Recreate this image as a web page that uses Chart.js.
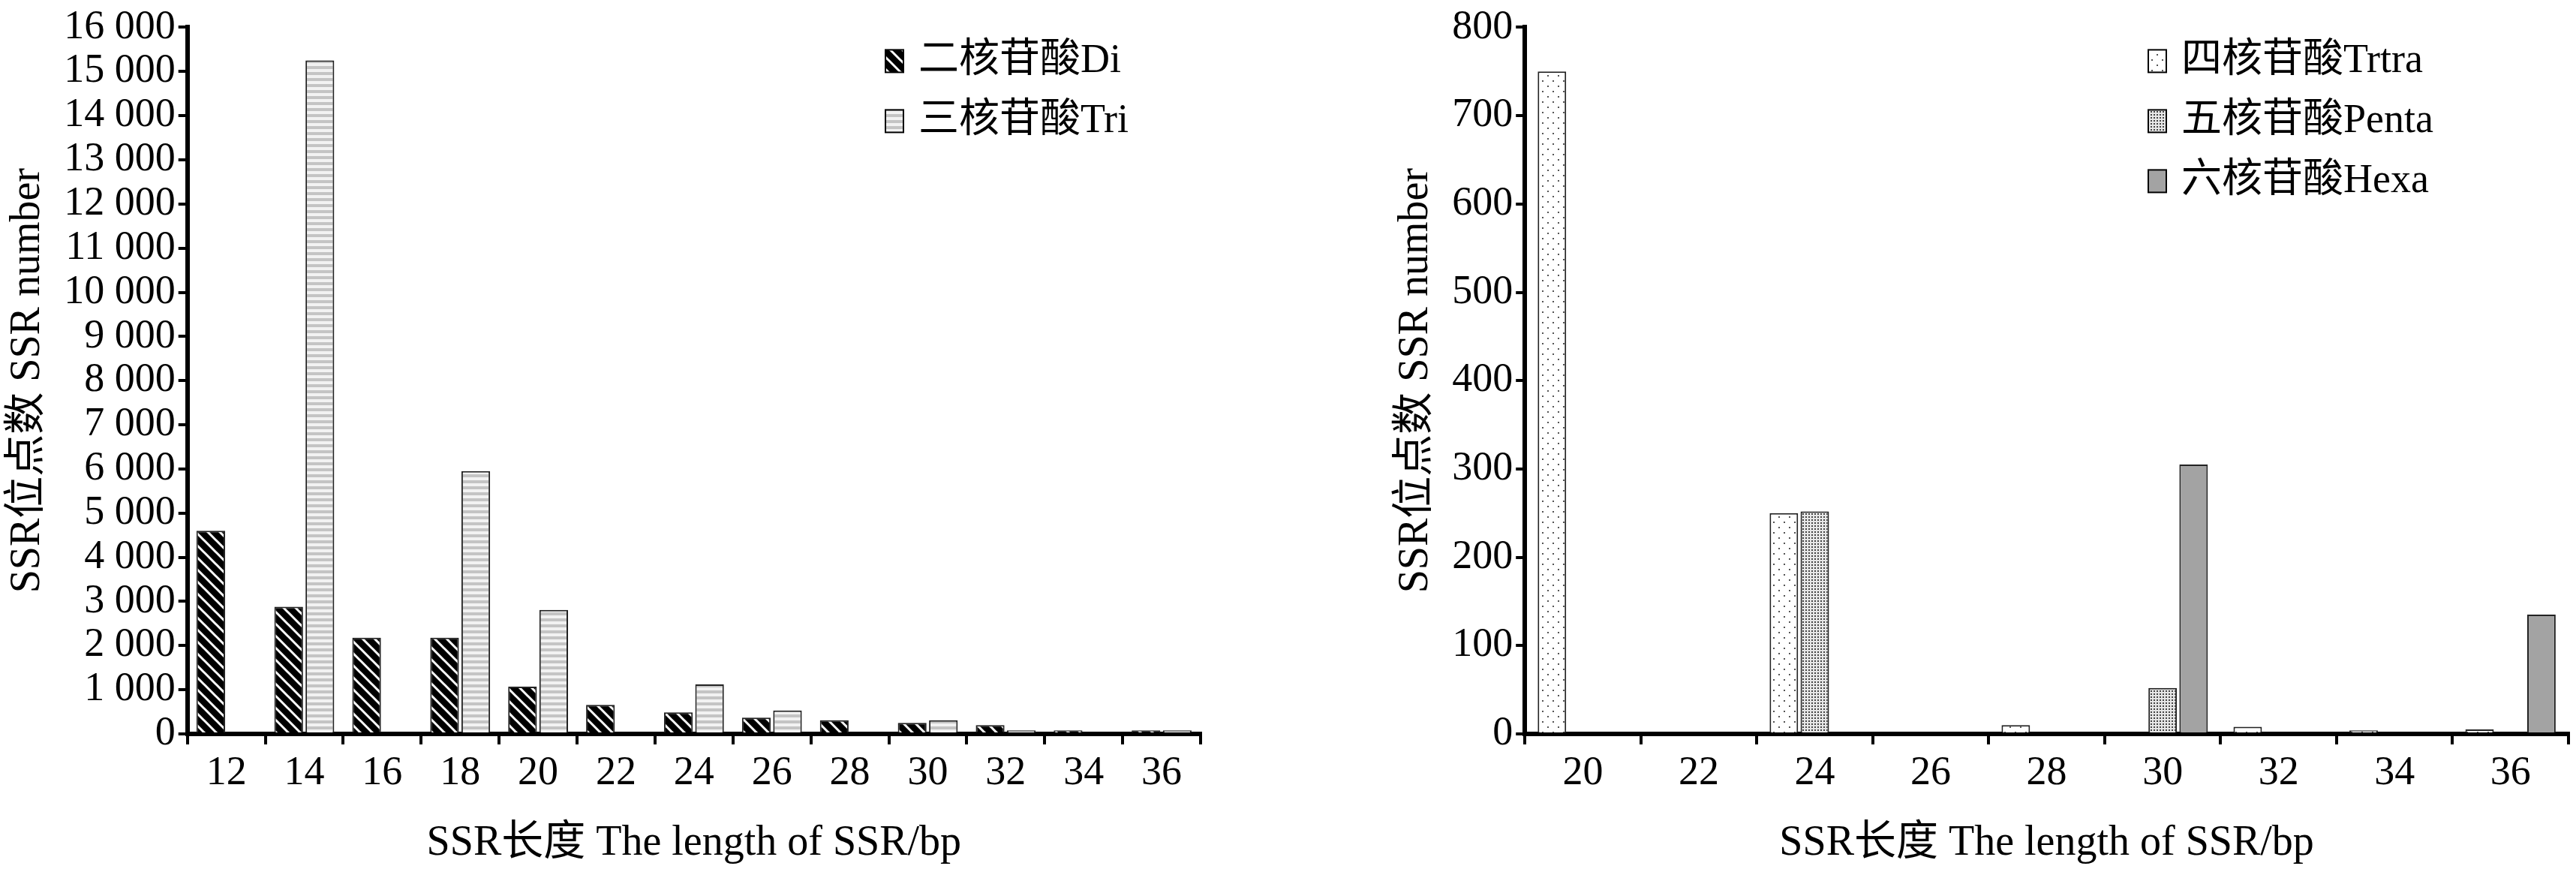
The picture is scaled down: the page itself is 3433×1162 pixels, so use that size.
<!DOCTYPE html>
<html>
<head>
<meta charset="utf-8">
<script src="https://cdn.jsdelivr.net/npm/chart.js@4"></script>
<style>
  body { margin: 0; background: #fff; }
  .box { position: absolute; top: 0; height: 1162px; }
</style>
</head>
<body>
<div class="box" style="left:0;width:1610px"><canvas id="left"></canvas></div>
<div class="box" style="left:1850px;width:1583px"><canvas id="right"></canvas></div>
<script>
// left chart
const leftLabels = ["12","14","16","18","20","22","24","26","28","30","32","34","36"];
const diValues  = [4600, 2880, 2180, 2180, 1070, 660, 490, 370, 310, 250, 200, 80, 80];
const triValues = [null, 15250, null, 5950, 2810, null, 1120, 530, null, 310, 80, null, 80];
// right chart
const rightLabels = ["20","22","24","26","28","30","32","34","36"];
const trtraValues = [750, null, 250, null, 10, null, 8, 4, 5];
const pentaValues = [null, null, 252, null, null, 52, null, null, null];
const hexaValues  = [null, null, null, null, null, 305, null, null, 135];

const FONT = "'Liberation Serif', 'DejaVu Serif', 'Noto Sans CJK SC', serif";

function pattern(draw, w, h) {
  const c = document.createElement("canvas");
  c.width = w; c.height = h;
  const g = c.getContext("2d");
  draw(g);
  return g.createPattern(c, "repeat");
}
const diPat = pattern(g => {
  g.fillStyle = "#000"; g.fillRect(0, 0, 16, 16);
  g.strokeStyle = "#fff"; g.lineWidth = 3;
  g.beginPath(); g.moveTo(0, 0); g.lineTo(16, 16); g.moveTo(-8, 8); g.lineTo(8, 24); g.moveTo(8, -8); g.lineTo(24, 8); g.stroke();
}, 16, 16);
const triPat = pattern(g => {
  g.fillStyle = "#f2f2f2"; g.fillRect(0, 0, 8, 8);
  g.fillStyle = "#c4c4c4"; g.fillRect(0, 0, 8, 4);
}, 8, 8);
const trtraPat = pattern(g => {
  g.fillStyle = "#fff"; g.fillRect(0, 0, 14, 14);
  g.fillStyle = "#555"; g.fillRect(2, 2, 2, 2); g.fillRect(9, 9, 2, 2);
}, 14, 14);
const pentaPat = pattern(g => {
  g.fillStyle = "#e6e6e6"; g.fillRect(0, 0, 4, 4);
  g.fillStyle = "#444"; g.fillRect(0, 0, 2, 2);
}, 4, 4);

// legend drawn inside the plot, top right
const innerLegend = {
  id: "innerLegend",
  afterDraw(chart, args, opts) {
    const ctx = chart.ctx;
    const a = chart.chartArea;
    ctx.save();
    ctx.font = "54px " + FONT;
    ctx.textBaseline = "middle";
    chart.data.datasets.forEach((ds, i) => {
      const x = a.right - opts.width;
      const y = a.top + 45 + i * 80;
      ctx.fillStyle = ds.backgroundColor;
      ctx.fillRect(x, y - 15, 24, 30);
      ctx.strokeStyle = "#000"; ctx.lineWidth = 2;
      ctx.strokeRect(x, y - 15, 24, 30);
      ctx.fillStyle = "#000";
      ctx.fillText(ds.label, x + 44, y);
    });
    ctx.restore();
  }
};

function makeChart(id, labels, datasets, yOpts, legendWidth) {
  return new Chart(document.getElementById(id), {
    type: "bar",
    data: { labels, datasets },
    plugins: [innerLegend],
    options: {
      responsive: true,
      maintainAspectRatio: false,
      animation: false,
      layout: { padding: { top: 20, right: 10 } },
      plugins: { legend: { display: false }, tooltip: { enabled: false }, innerLegend: { width: legendWidth } },
      datasets: { bar: { categoryPercentage: 0.8, barPercentage: 0.92, borderColor: "#222", borderWidth: 2, borderSkipped: "bottom" } },
      scales: {
        x: {
          grid: { offset: true, drawOnChartArea: false, color: "#000", lineWidth: 4, tickLength: 14 },
          border: { color: "#000", width: 6 },
          ticks: { color: "#000", font: { size: 54, family: FONT }, padding: 6 },
          title: { display: true, text: "SSR长度 The length of SSR/bp", color: "#000", font: { size: 56, family: FONT }, padding: { top: 22 } }
        },
        y: Object.assign({
          beginAtZero: true,
          grid: { drawOnChartArea: false, color: "#000", lineWidth: 4, tickLength: 12 },
          border: { color: "#000", width: 6 },
          title: { display: true, text: "SSR位点数 SSR number", color: "#000", font: { size: 56, family: FONT }, padding: { bottom: 10 } }
        }, yOpts)
      }
    }
  });
}

makeChart("left", leftLabels, [
  { label: "二核苷酸Di", data: diValues, backgroundColor: diPat },
  { label: "三核苷酸Tri", data: triValues, backgroundColor: triPat }
], {
  max: 16000,
  ticks: {
    stepSize: 1000, autoSkip: false, color: "#000", font: { size: 54, family: FONT }, padding: 4,
    callback: v => v >= 1000 ? Math.floor(v / 1000) + " " + String(v % 1000).padStart(3, "0") : String(v)
  }
}, 420);

makeChart("right", rightLabels, [
  { label: "四核苷酸Trtra", data: trtraValues, backgroundColor: trtraPat },
  { label: "五核苷酸Penta", data: pentaValues, backgroundColor: pentaPat },
  { label: "六核苷酸Hexa", data: hexaValues, backgroundColor: "#a3a3a3" }
], {
  max: 800,
  ticks: { stepSize: 100, autoSkip: false, color: "#000", font: { size: 54, family: FONT }, padding: 4 }
}, 560);
</script>
</body>
</html>
